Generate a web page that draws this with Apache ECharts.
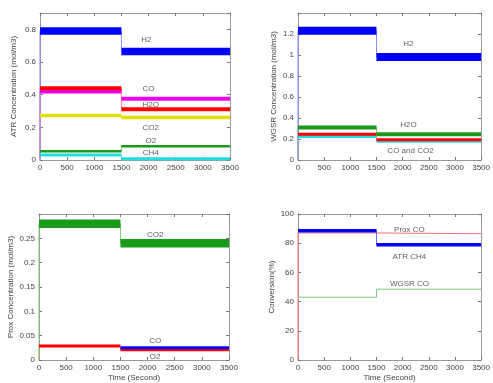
<!DOCTYPE html>
<html><head><meta charset="utf-8">
<script src="https://cdn.jsdelivr.net/npm/echarts@6/dist/echarts.min.js"></script>
<style>html,body{margin:0;padding:0;background:#fff}#c{width:493px;height:383px}</style>
</head><body><div id="c"></div>
<script>
// step time: the load change happens at 1500 s, run ends at 3500 s
const tStep = 1500;
const tEnd = 3500;
const xTicks = [0, 500, 1000, 1500, 2000, 2500, 3000, 3500];

// Each series: [value before step, value after step]
// Panel 1: ATR concentrations (mol/m3)
const atrH2  = [0.79, 0.665];
const atrH2O = [0.44, 0.31];
const atrCO  = [0.42, 0.375];
const atrCO2 = [0.273, 0.26];
const atrO2  = [0.053, 0.084];
const atrCH4 = [0.03, 0.008];
const atrTicks = ['0', '0.2', '0.4', '0.6', '0.8'];

// Panel 2: WGSR concentrations
const wgsH2  = [1.23, 0.98];
const wgsH2O = [0.31, 0.245];
const wgsCO  = [0.245, 0.193];
const wgsCO2 = [0.225, 0.178];
const wgsTicks = ['0', '0.2', '0.4', '0.6', '0.8', '1', '1.2'];

// Panel 3: Prox concentrations
const proxCO2 = [0.28, 0.24];
const proxCO  = [0.029, 0.025];
const proxO2  = [0.029, 0.021];
const proxTicks = ['0', '0.05', '0.1', '0.15', '0.2', '0.25'];

// Panel 4: Conversion (%)
const convProxCO = [87, 86.5];
const convAtrCH4 = [88.5, 79];
const convWgsCO  = [43, 48.5];
const convTicks = ['0', '20', '40', '60', '80', '100'];

// Text annotations [x, y, text]
const atrLabels  = [[1960, 0.735, 'H2'], [2000, 0.435, 'CO'], [2040, 0.337, 'H2O'], [2040, 0.2, 'CO2'], [2040, 0.116, 'O2'], [2040, 0.043, 'CH4']];
const wgsLabels  = [[2110, 1.105, 'H2'], [2110, 0.333, 'H2O'], [2150, 0.089, 'CO and CO2']];
const proxLabels = [[2140, 0.258, 'CO2'], [2140, 0.04, 'CO'], [2140, 0.006, 'O2']];
const convLabels = [[2130, 89.3, 'Prox CO'], [2130, 70.5, 'ATR CH4'], [2130, 52.3, 'WGSR CO']];

const FONT = 'Liberation Sans';
const grids = [
  {left: 40, top: 13, width: 190, height: 147},
  {left: 298, top: 13, width: 189, height: 147},
  {left: 39, top: 214, width: 190, height: 149},
  {left: 298, top: 214, width: 189, height: 149}
];
const yCfg = [
  {max: 0.9, interval: 0.2, ticks: atrTicks, name: 'ATR Concentration (mol/m3)', gap: 22},
  {max: 1.4, interval: 0.2, ticks: wgsTicks, name: 'WGSR Concentration (mol/m3)', gap: 20},
  {max: 0.3, interval: 0.05, ticks: proxTicks, name: 'Prox Concentration (mol/m3)', gap: 24},
  {max: 100, interval: 20, ticks: convTicks, name: 'Conversion(%)', gap: 22}
];
const axLine = {show: true, onZero: false, lineStyle: {color: '#999', width: 1}};
const tick = {show: true, inside: true, length: 3, lineStyle: {color: '#777'}};
const lbl = {fontFamily: FONT, fontSize: 8, color: '#444'};
const nameStyle = {fontFamily: FONT, fontSize: 8, color: '#444'};

const xAxis = [], yAxis = [];
grids.forEach((g, i) => {
  xAxis.push({type: 'value', gridIndex: i, min: 0, max: tEnd, interval: 500, position: 'bottom',
    axisLine: axLine, axisTick: tick, splitLine: {show: false},
    axisLabel: Object.assign({margin: 4, formatter: v => xTicks.includes(v) ? String(v) : ''}, lbl),
    name: i >= 2 ? 'Time (Second)' : '', nameLocation: 'middle', nameGap: 14, nameTextStyle: nameStyle});
  xAxis.push({type: 'value', gridIndex: i, min: 0, max: tEnd, interval: 500, position: 'top',
    axisLine: axLine, axisTick: tick, axisLabel: {show: false}, splitLine: {show: false}});
  const c = yCfg[i];
  yAxis.push({type: 'value', gridIndex: i, min: 0, max: c.max, interval: c.interval, position: 'left',
    axisLine: axLine, axisTick: tick, splitLine: {show: false},
    axisLabel: Object.assign({margin: 4, formatter: v => {
      const s = String(+v.toFixed(4)); return c.ticks.includes(s) ? s : ''; }}, lbl),
    name: c.name, nameLocation: 'middle', nameGap: c.gap, nameTextStyle: nameStyle});
  yAxis.push({type: 'value', gridIndex: i, min: 0, max: c.max, interval: c.interval, position: 'right',
    axisLine: axLine, axisTick: tick, axisLabel: {show: false}, splitLine: {show: false}});
});

// thin trace: rises from 0 at t=0 (if fromZero), steps at tStep
function trace(i, vals, color, fromZero) {
  const d = (fromZero ? [[0, 0]] : []).concat([[0, vals[0]], [tStep, vals[0]], [tStep, vals[1]], [tEnd, vals[1]]]);
  return {type: 'line', xAxisIndex: 2 * i, yAxisIndex: 2 * i, symbol: 'none', animation: false, z: 2,
    data: d, lineStyle: {color: color, width: 1}, itemStyle: {color: color}};
}
// thick noisy band: horizontal segments only
function band(i, vals, color, width) {
  return {type: 'line', xAxisIndex: 2 * i, yAxisIndex: 2 * i, symbol: 'none', animation: false, z: 3,
    data: [[0, vals[0]], [tStep, vals[0]], [tStep, '-'], [tStep, vals[1]], [tEnd, vals[1]]],
    connectNulls: false, lineStyle: {color: color, width: width}, itemStyle: {color: color}};
}
function s(i, vals, color, thin, width, fromZero) {
  return [trace(i, vals, thin, fromZero), band(i, vals, color, width)];
}
function texts(i, arr) {
  return {type: 'scatter', xAxisIndex: 2 * i, yAxisIndex: 2 * i, symbolSize: 0, animation: false, z: 5,
    data: arr.map(a => ({value: [a[0], a[1]], name: a[2]})),
    label: {show: true, position: 'inside', formatter: p => p.name, fontFamily: FONT, fontSize: 8, color: '#333'}};
}

const series = [].concat(
  s(0, atrCH4, '#22dddd', '#88eeee', 3, true),
  s(0, atrO2, '#1a9a1a', '#77cc77', 2.5, true),
  s(0, atrCO2, '#e0e000', '#eeee66', 3.5, true),
  s(0, atrCO, '#ee00ee', '#ff88ff', 4, true),
  s(0, atrH2O, '#ff0000', '#ff8888', 4, true),
  s(0, atrH2, '#0000ff', '#8888ff', 7.5, true),
  [texts(0, atrLabels)],
  s(1, wgsCO2, '#22dddd', '#88eeee', 3, true),
  s(1, wgsCO, '#ff0000', '#ff8888', 3, true),
  s(1, wgsH2O, '#1a9a1a', '#77cc77', 4, true),
  s(1, wgsH2, '#0000ff', '#8888ff', 8, true),
  [texts(1, wgsLabels)],
  [band(2, proxO2, '#ff0000', 3), trace(2, proxO2, '#ff8888', true)],
  [{type: 'line', xAxisIndex: 4, yAxisIndex: 4, symbol: 'none', animation: false, z: 4,
    data: [[tStep, proxCO[1]], [tEnd, proxCO[1]]], lineStyle: {color: '#0000ff', width: 3}}],
  s(2, proxCO2, '#1a9a1a', '#77cc77', 8.5, true),
  [texts(2, proxLabels)],
  [trace(3, convProxCO, '#ff7070', true)],
  s(3, convAtrCH4, '#0000ff', '#6666ff', 3.5, false),
  [trace(3, convWgsCO, '#77cc77', false)],
  [texts(3, convLabels)]
);

const chart = echarts.init(document.getElementById('c'), null, {renderer: 'canvas'});
chart.setOption({backgroundColor: '#fff', animation: false, grid: grids, xAxis: xAxis, yAxis: yAxis, series: series});
</script></body></html>
